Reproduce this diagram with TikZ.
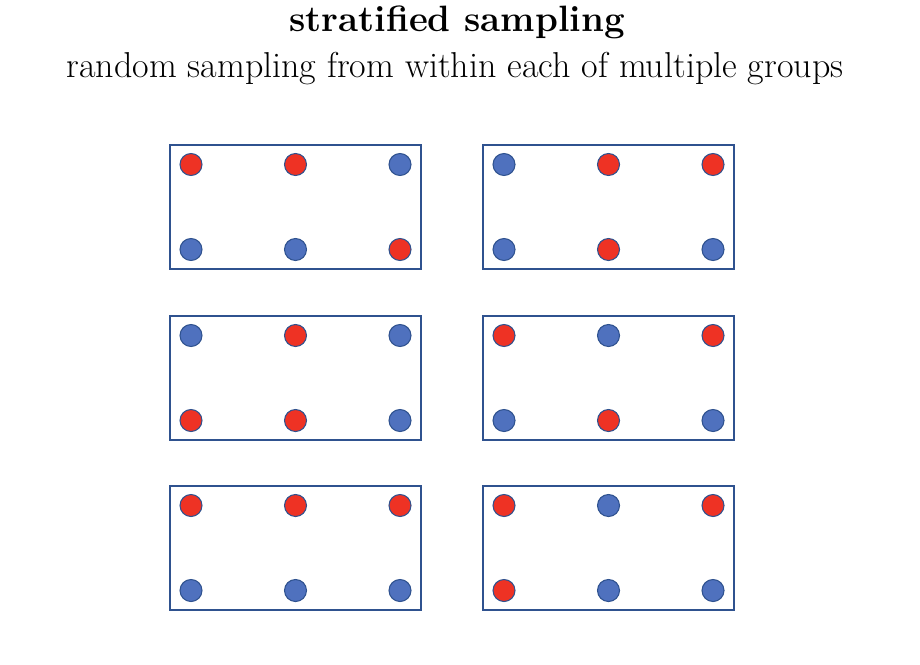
\documentclass[tikz,border=0pt]{standalone}
\usetikzlibrary{positioning}

\definecolor{dotred}{HTML}{EE3224}
\definecolor{dotblue}{HTML}{4F71BE}
\definecolor{rimblue}{HTML}{2F528F}

\begin{document}
\begin{tikzpicture}[
    x=0.75pt, y=-0.75pt,
    group/.style={draw=rimblue, line width=0.85pt, minimum width=188.25pt, minimum height=93pt, inner sep=0pt},
    ball/.style={circle, draw=rimblue, line width=0.8pt, minimum size=16.5pt, inner sep=0pt},
    title_font/.style={font=\fontsize{27.5}{32}\selectfont\bfseries},
    sub_font/.style={font=\fontsize{27}{32}\selectfont}
]
    \useasboundingbox (0,0) rectangle (920,664);

    % Heading
    \node[title_font] (title) at (457,22) {stratified sampling};
    \node[sub_font] (subtitle) at (455,69) {random sampling from within each of multiple groups};

    % Groups: name / centre / colours (top row, then bottom row)
    \foreach \name/\cx/\cy/\cols in {
        g1/295.5/207/{dotred,dotred,dotblue,dotblue,dotblue,dotred},
        g2/608.5/207/{dotblue,dotred,dotred,dotblue,dotred,dotblue},
        g3/295.5/378/{dotblue,dotred,dotblue,dotred,dotred,dotblue},
        g4/608.5/378/{dotred,dotblue,dotred,dotblue,dotred,dotblue},
        g5/295.5/548/{dotred,dotred,dotred,dotblue,dotblue,dotblue},
        g6/608.5/548/{dotred,dotblue,dotred,dotred,dotblue,dotblue}} {
        \node[group] (\name) at (\cx,\cy) {};
        % Members of the group
        \foreach \c [count=\k from 0] in \cols {
            \pgfmathtruncatemacro{\col}{mod(\k,3)}
            \pgfmathtruncatemacro{\row}{int(\k/3)}
            \pgfmathsetmacro{\dx}{-104.5 + \col*104.5}
            \pgfmathsetmacro{\dy}{-42.5 + \row*85}
            \node[ball, fill=\c] (\name_\k) at (\cx+\dx,\cy+\dy) {};
        }
    }

\end{tikzpicture}
\end{document}
